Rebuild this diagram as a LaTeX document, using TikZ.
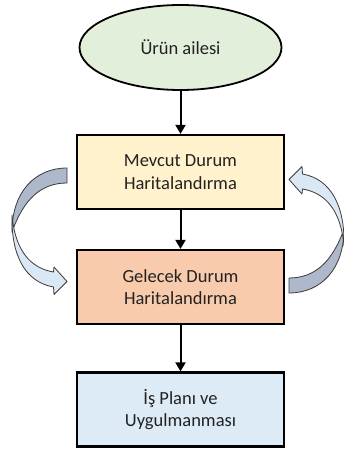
\documentclass[tikz,border=0pt]{standalone}
\usepackage{fontspec}
\setmainfont{Carlito}
\usetikzlibrary{shapes.geometric,arrows.meta}

\definecolor{ovalfill}{HTML}{E2EFDA}
\definecolor{curfill}{HTML}{FFF2CC}
\definecolor{futfill}{HTML}{F8CBAD}
\definecolor{planfill}{HTML}{DDEBF7}
\definecolor{ribbonback}{HTML}{ADB9CA}
\definecolor{ribbonfront}{HTML}{DAE7F4}
\definecolor{ribbonedge}{HTML}{3A3A3A}
\definecolor{labeltext}{HTML}{222222}

\tikzset{
  labelfont/.style={text=labeltext, font=\fontsize{18.5}{22.5}\selectfont},
  stagebox/.style={rectangle, draw=black, line width=2.2pt,
    minimum width=207pt, minimum height=74pt, inner sep=0pt,
    align=center, labelfont},
  startoval/.style={ellipse, draw=black, line width=1.8pt, fill=ovalfill,
    minimum width=202pt, minimum height=85pt, inner sep=0pt, labelfont},
  flowarrow/.style={line width=2pt, -{Triangle[length=9pt,width=10pt]}},
  ribbon/.style={draw=ribbonedge, line width=0.8pt, line join=round},
  % curved feedback arrow: tail at top right, head at bottom right
  pics/bendarrow/.style={code={
    \fill[ribbonback, ribbon]
      (67,168) .. controls (35,168) and (12,192) .. (12,232)
      .. controls (24,198) and (42,183) .. (67,183) -- cycle;
    \fill[ribbonfront, ribbon]
      (12,215) .. controls (11,255) and (25,282) .. (53.5,287)
      -- (54,294.5) -- (67,281.5) -- (54,267) -- (53.5,272)
      .. controls (30,268) and (15,250) .. (12,215) -- cycle;
  }},
}

\begin{document}
\begin{tikzpicture}[x=1pt,y=-1pt]
  \useasboundingbox (0,0) rectangle (344,449);

  % flow stages
  \node[startoval] (family) at (180.5,47.5) {Ürün ailesi};
  \node[stagebox, fill=curfill] (current) at (180.5,172) {Mevcut Durum\\Haritalandırma};
  \node[stagebox, fill=futfill] (future) at (180.5,287) {Gelecek Durum\\Haritalandırma};
  \node[stagebox, fill=planfill] (plan) at (180.5,409.5) {İş Planı ve\\Uygulmanması};

  % connectors
  \draw[flowarrow] (family.south) -- (current.north);
  \draw[flowarrow] (current.south) -- (future.north);
  \draw[flowarrow] (future.south) -- (plan.north);

  % feedback loops on both sides
  \pic at (0,0) {bendarrow};
  \pic[rotate=180] at (356,461) {bendarrow};
\end{tikzpicture}
\end{document}
